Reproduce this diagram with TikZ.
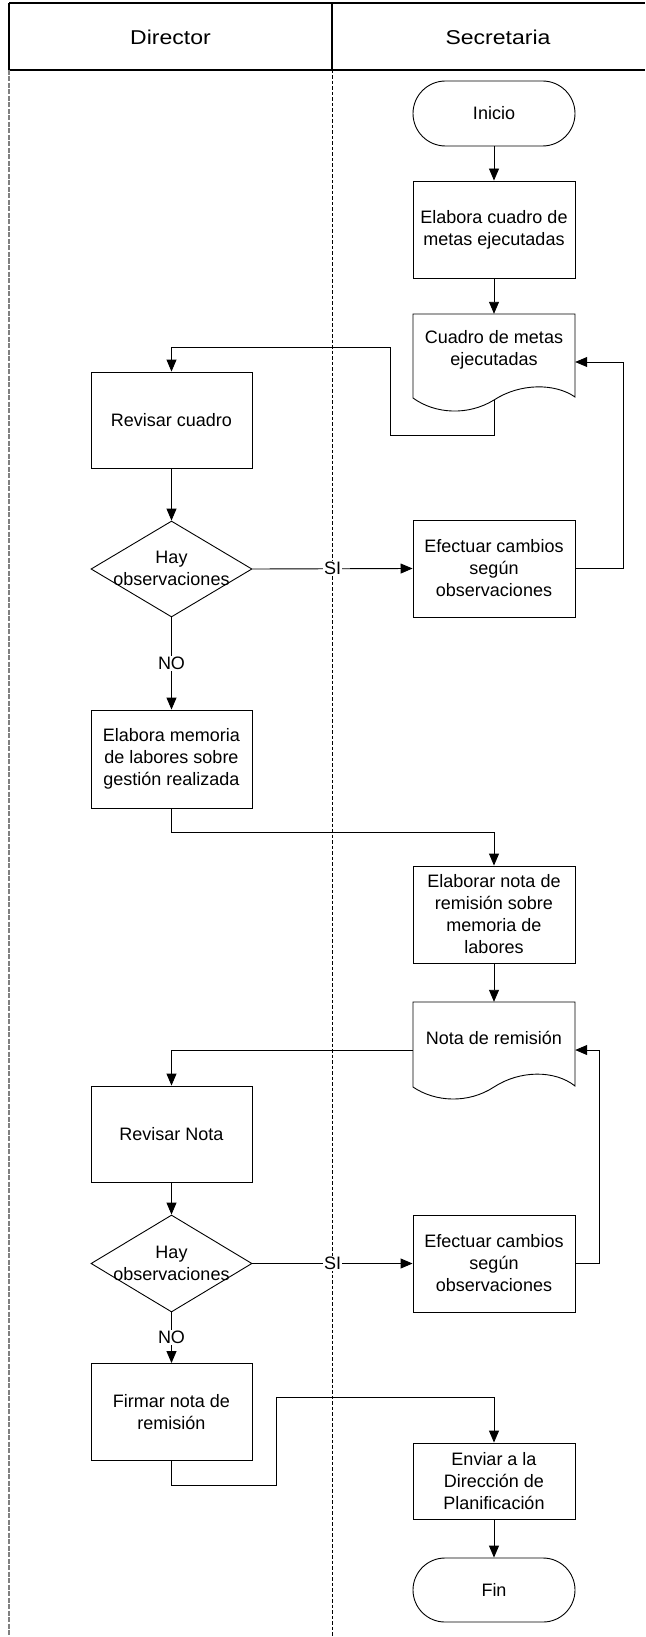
\documentclass[tikz,border=0pt]{standalone}
\usepackage{fontspec}
\setmainfont{Liberation Sans}
\newfontfamily\headfont[FakeStretch=1.15]{Liberation Sans}
\usetikzlibrary{shapes.geometric,arrows.meta,calc}

\begin{document}
\begin{tikzpicture}[x=1pt,y=-1pt,
  font=\fontsize{18}{22}\selectfont,
  box/.style={draw, line width=0.9pt, minimum width=162pt, minimum height=97pt, align=center, inner sep=2pt},
  term/.style={draw, line width=0.9pt, rounded corners=32.5pt, minimum width=162pt, minimum height=65pt},
  decision/.style={draw, diamond, line width=0.9pt, minimum width=161pt, minimum height=96pt, inner sep=0pt},
  decitext/.style={align=center, inner sep=0pt},
  doc/.style={minimum width=162pt, minimum height=72pt, align=center, inner sep=0pt},
  flow/.style={line width=0.9pt, -{Triangle[length=12pt,width=10pt]}},
  link/.style={line width=0.9pt},
  tag/.style={fill=white, inner sep=1pt},
  lanehead/.style={line width=1.3pt},
  headtext/.style={font=\headfont\fontsize{20}{24}\selectfont},
]
\useasboundingbox (0,0) rectangle (645,1637);

% swimlane header
\draw[lanehead] (9,3) -- (645,3);
\draw[lanehead] (9,70) -- (645,70);
\draw[lanehead] (9,3) -- (9,70);
\draw[lanehead] (332,3) -- (332,70);
\node[headtext] (hdir) at (170.5,37) {Director};
\node[headtext] (hsec) at (498,37) {Secretaria};

% swimlane bodies
\draw[gray, line width=1.4pt, dash pattern=on 5pt off 1.5pt] (9,70) -- (9,1637);
\draw[line width=0.8pt, dash pattern=on 3.5pt off 2pt] (332.5,70) -- (332.5,1637);

% Secretaria: start and first document
\node[term] (inicio) at (494,113.5) {Inicio};
\node[box] (elab) at (494,229.5) {Elabora cuadro de\\metas ejecutadas};
\node[doc] (doc1) at (494,350) {Cuadro de metas\\ejecutadas};
\draw[link] (413,314) -- (575,314) -- (575,397)
  .. controls (555,383) and (520,383) .. (494,400)
  .. controls (468,416) and (435,414) .. (413,398) -- cycle;
\coordinate (doc1w) at (494,400);

% Director: review of the table
\node[box, minimum width=161pt, minimum height=96pt] (revc) at (171.5,420) {Revisar cuadro};
\node[decision] (dec1) at (171.5,569) {};
\node[decitext] (dec1t) at (171.5,568) {Hay\\observaciones};
\node[box] (efe1) at (494,568.5) {Efectuar cambios\\según\\observaciones};
\node[box, minimum width=161pt, minimum height=98pt] (mem) at (171.5,759) {Elabora memoria\\de labores sobre\\gestión realizada};

% Secretaria: cover note
\node[box] (nota) at (494,914.5) {Elaborar nota de\\remisión sobre\\memoria de\\labores};
\node[doc] (doc2) at (494,1038) {Nota de remisión};
\draw[link] (413,1002) -- (575,1002) -- (575,1086)
  .. controls (555,1070) and (520,1070) .. (494,1087)
  .. controls (468,1104) and (435,1102) .. (413,1087) -- cycle;

% Director: review of the note
\node[box, minimum width=161pt, minimum height=96pt] (revn) at (171.5,1134) {Revisar Nota};
\node[decision, minimum height=97pt] (dec2) at (171.5,1263.5) {};
\node[decitext] (dec2t) at (171.5,1263) {Hay\\observaciones};
\node[box] (efe2) at (494,1263.5) {Efectuar cambios\\según\\observaciones};
\node[box, minimum width=161pt] (firmar) at (171.5,1412) {Firmar nota de\\remisión};

% Secretaria: dispatch and end
\node[box, minimum height=76pt] (enviar) at (494,1481) {Enviar a la\\Dirección de\\Planificación};
\node[term, minimum height=64pt, rounded corners=32pt] (fin) at (494,1590) {Fin};

% connectors
\draw[flow] (inicio) -- (elab);
\draw[flow] (elab) -- (doc1);
\draw[flow] (doc1w) -- ++(0,35) -| (390,347) -| (revc.north);
\draw[flow] (revc) -- (dec1);
\draw[flow] (dec1.east) -- node[tag] (si1) {SI} (efe1.west);
\draw[flow] (efe1.east) -- ++(48,0) |- ([yshift=-12pt]doc1.east);
\draw[flow] (dec1.south) -- node[tag] (no1) {NO} (mem.north);
\draw[flow] (mem.south) -- ++(0,24) -| (nota.north);
\draw[flow] (nota) -- (doc2);
\draw[flow] ([yshift=-12pt]doc2.west) -| (revn.north);
\draw[flow] (revn) -- (dec2);
\draw[flow] (dec2.east) -- node[tag] (si2) {SI} (efe2.west);
\draw[flow] (efe2.east) -- ++(24,0) |- ([yshift=-12pt]doc2.east);
\draw[flow] (dec2.south) -- node[tag] (no2) {NO} (firmar.north);
\draw[flow] (firmar.south) -- ++(0,24) -| (276,1397) -| (enviar.north);
\draw[flow] (enviar) -- (fin);
\end{tikzpicture}
\end{document}
